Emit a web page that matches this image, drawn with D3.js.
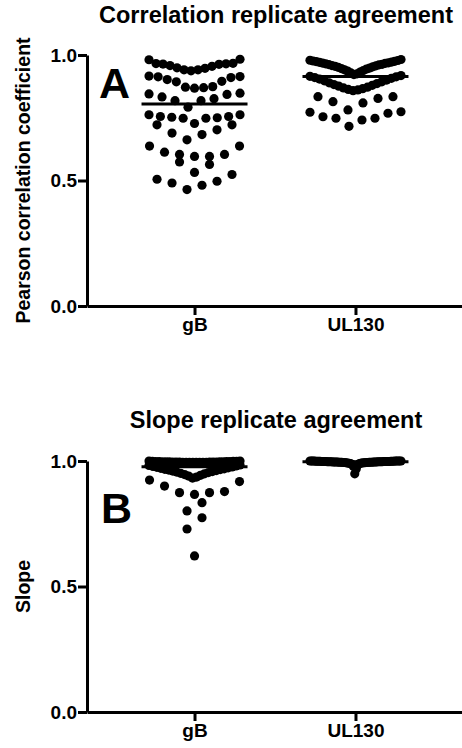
<!DOCTYPE html>
<html>
<head>
<meta charset="utf-8">
<script src="https://cdn.jsdelivr.net/npm/d3@7"></script>
<style>
  body { margin: 0; background: #fff; }
  svg { display: block; }
  text { font-family: "Liberation Sans", Arial, sans-serif; font-weight: bold; fill: #000; }
</style>
</head>
<body>
<div id="chart"></div>
<script>
// categories
const groups = ["gB", "UL130"];
const yTicks = [0, 0.5, 1.0];

// correlation (panel A)
const gBCorr = [0.983, 0.981, 0.967, 0.965, 0.963, 0.955, 0.947, 0.941, 0.937, 0.941, 0.949, 0.958, 0.964, 0.966,
  0.916, 0.914, 0.902, 0.893, 0.872, 0.868, 0.870, 0.874, 0.895, 0.910, 0.913,
  0.848, 0.843, 0.826, 0.818, 0.792, 0.818, 0.833, 0.845,
  0.762, 0.755, 0.752, 0.748, 0.727, 0.748, 0.750, 0.755, 0.762, 0.722, 0.722,
  0.702, 0.683, 0.689, 0.662, 0.637, 0.637,
  0.613, 0.604, 0.596, 0.596, 0.604, 0.574, 0.564, 0.532,
  0.505, 0.490, 0.464, 0.481, 0.497, 0.524];
const ul130Corr = [0.982, 0.979, 0.978, 0.976, 0.975, 0.974, 0.972, 0.971, 0.969, 0.968, 0.967, 0.965, 0.963, 0.962, 0.961,
  0.958, 0.957, 0.955, 0.953, 0.951, 0.948, 0.946, 0.944, 0.941, 0.938, 0.936, 0.932, 0.929, 0.925, 0.922,
  0.918, 0.915, 0.913, 0.910, 0.907, 0.904, 0.900, 0.897, 0.893, 0.889, 0.886, 0.882, 0.879, 0.876, 0.872,
  0.869, 0.866, 0.863, 0.861, 0.858,
  0.834, 0.827, 0.809, 0.781, 0.814, 0.834,
  0.774, 0.754, 0.741, 0.716, 0.748, 0.748, 0.768, 0.772];

// slope (panel B)
const gBSlope = [1.000, 1.000, 0.999, 0.999, 0.999, 0.998, 0.998, 0.998, 0.998, 0.997, 0.997, 0.997, 0.997, 0.997,
  0.996, 0.996, 0.996, 0.996, 0.996, 0.996, 0.995, 0.995, 0.995, 0.995, 0.995, 0.995, 0.995, 0.995,
  0.984, 0.982, 0.980, 0.978, 0.976, 0.975, 0.973, 0.971, 0.969, 0.967, 0.966, 0.964,
  0.962, 0.960, 0.958, 0.956, 0.954, 0.951, 0.949, 0.946, 0.943, 0.940, 0.936, 0.932,
  0.918, 0.874, 0.874, 0.867, 0.878, 0.900, 0.924, 0.834, 0.801, 0.774, 0.729, 0.622];
const ul130Slope = [0.949, 0.968, 0.979, 0.984, 0.987, 0.989, 0.990, 0.991, 0.991, 0.992, 0.992, 0.993, 0.993, 0.993,
  0.994, 0.994, 0.994, 0.994, 0.995, 0.995, 0.995, 0.995, 0.995, 0.995, 0.996, 0.996, 0.996, 0.996, 0.996,
  0.996, 0.996, 0.997, 0.997, 0.997, 0.997, 0.997, 0.997, 0.997, 0.997, 0.998, 0.998, 0.998, 0.998, 0.998,
  0.998, 0.998, 0.998, 0.998, 0.999, 0.999, 0.999, 0.999, 0.999, 0.999, 0.999, 1.000, 1.000, 1.000, 1.000,
  1.000, 1.000, 1.000, 1.000, 1.000];

const W = 462, H = 748;
const svg = d3.select("#chart").append("svg")
  .attr("width", W)
  .attr("height", H);

const x = d3.scalePoint()
  .domain(groups)
  .range([87, 463])
  .padding(0.668);

// Prism-like column layout: bin values in rows from the bottom up,
// lowest value of a row in the middle, spreading outward
function columnLayout(values) {
  const rowH = 0.062, step = 15, maxW = 91;
  const sorted = values.slice().sort(d3.ascending);
  const rows = [];
  let i = 0;
  while (i < sorted.length) {
    const start = sorted[i];
    const row = [];
    while (i < sorted.length && sorted[i] <= start + rowH + 1e-9) row.push(sorted[i++]);
    rows.push(row);
  }
  const pts = [];
  rows.forEach(row => {
    const n = row.length;
    const s = n > 1 ? Math.min(step, maxW / (n - 1)) : 0;
    row.forEach((v, j) => {
      let k;
      if (n % 2 === 1) k = j === 0 ? 0 : (j % 2 === 1 ? Math.ceil(j / 2) : -Math.ceil(j / 2));
      else { const m = Math.floor(j / 2); k = j % 2 === 0 ? -(m + 0.5) : (m + 0.5); }
      pts.push({ v, dx: k * s });
    });
  });
  return pts;
}

function drawPanel(p) {
  const y = d3.scaleLinear().domain([0, 1]).range([p.bottom, p.top]);
  const g = svg.append("g");

  // title
  g.append("text")
    .attr("x", 276).attr("y", p.titleY)
    .attr("text-anchor", "middle")
    .attr("font-size", "23.5px")
    .text(p.title);

  // y label
  g.append("text")
    .attr("transform", `translate(30,${(p.top + p.bottom) / 2}) rotate(-90)`)
    .attr("text-anchor", "middle")
    .attr("font-size", "19.5px")
    .text(p.yLabel);

  // panel letter
  g.append("text")
    .attr("x", p.letterX).attr("y", p.letterY)
    .attr("font-size", "43px")
    .text(p.letter);

  // axes
  const yAxis = g.append("g")
    .attr("transform", "translate(87,0)")
    .call(d3.axisLeft(y).tickValues(yTicks).tickFormat(d3.format(".1f")).tickSize(9).tickSizeOuter(0).tickPadding(1));
  const xAxis = g.append("g")
    .attr("transform", `translate(0,${p.bottom})`)
    .call(d3.axisBottom(x).tickSize(9).tickSizeOuter(0).tickPadding(3));
  [yAxis, xAxis].forEach(a => {
    a.select(".domain").attr("stroke", "#000").attr("stroke-width", 3);
    a.selectAll(".tick line").attr("stroke", "#000").attr("stroke-width", 3);
    a.selectAll(".tick text")
      .attr("font-size", "19px")
      .attr("font-family", "'Liberation Sans', Arial, sans-serif")
      .attr("font-weight", "bold")
      .attr("fill", "#000");
  });

  // dots + median line for each column
  p.series.forEach((vals, gi) => {
    const cx = x(groups[gi]);
    const pts = columnLayout(vals);
    g.append("g").selectAll("circle")
      .data(pts)
      .enter()
      .append("circle")
      .attr("cx", d => cx + d.dx)
      .attr("cy", d => y(d.v))
      .attr("r", 4.6)
      .attr("fill", "#000");

    const med = d3.median(vals);
    g.append("line")
      .attr("x1", cx - 53).attr("x2", cx + 53)
      .attr("y1", y(med)).attr("y2", y(med))
      .attr("stroke", "#000")
      .attr("stroke-width", 3);
  });
}

drawPanel({
  top: 55, bottom: 306, titleY: 23,
  title: "Correlation replicate agreement",
  yLabel: "Pearson correlation coefficient",
  letter: "A", letterX: 99, letterY: 98,
  series: [gBCorr, ul130Corr]
});

drawPanel({
  top: 461, bottom: 712, titleY: 428,
  title: "Slope replicate agreement",
  yLabel: "Slope",
  letter: "B", letterX: 101, letterY: 523,
  series: [gBSlope, ul130Slope]
});
</script>
</body>
</html>
